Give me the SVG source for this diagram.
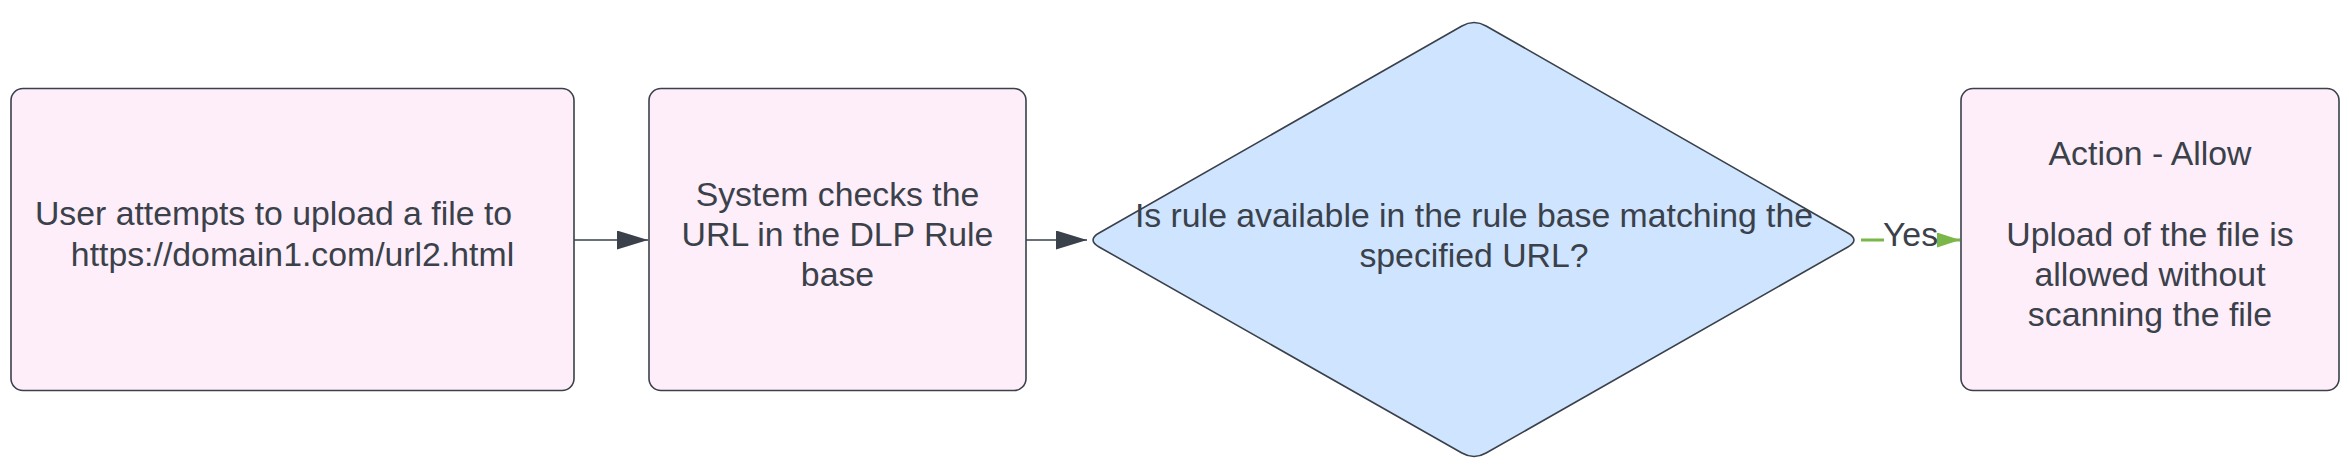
<svg xmlns="http://www.w3.org/2000/svg" width="2349" height="473" viewBox="0 0 2349 473">
  <defs>
    <style>
      .box { fill: #feeef9; stroke: #3a414a; stroke-width: 1.6; }
      .dia { fill: #cfe4ff; stroke: #3a414a; stroke-width: 1.6; }
      .t { font-family: "Liberation Sans", Arial, sans-serif; font-size: 33.8px; fill: #3a414a; text-anchor: middle; }
      .edge { fill: none; stroke: #3a414a; stroke-width: 1.6; }
      .yes { fill: none; stroke: #7ab648; stroke-width: 3; }
    </style>
    <marker id="ah" viewBox="0 0 31 19" refX="31" refY="9.5" markerWidth="31" markerHeight="19" markerUnits="userSpaceOnUse" orient="auto">
      <path d="M0,0 L31,9.5 L0,19 Z" fill="#3a414a"/>
    </marker>
    <marker id="ahg" viewBox="0 0 23 15" refX="23" refY="7.5" markerWidth="23" markerHeight="15" markerUnits="userSpaceOnUse" orient="auto">
      <path d="M0,0 L23,7.5 L0,15 Z" fill="#7ab648"/>
    </marker>
  </defs>
  <rect width="2349" height="473" fill="#ffffff"/>

  <g id="connectors">
    <line class="edge" x1="574" y1="240" x2="648" y2="240" marker-end="url(#ah)"/>
    <line class="edge" x1="1026" y1="240" x2="1087" y2="240" marker-end="url(#ah)"/>
    <g id="edge-yes">
      <line class="yes" x1="1861" y1="240" x2="1960" y2="240" marker-end="url(#ahg)"/>
      <rect x="1884" y="222" width="53" height="34" fill="#ffffff"/>
      <text class="t" x="1910.5" y="245.5">Yes</text>
    </g>
  </g>

  <g id="node-user">
    <rect class="box" x="11" y="88.5" width="563" height="302" rx="12" ry="12"/>
    <text class="t" x="273.5" y="225">User attempts to upload a file to</text>
    <text class="t" x="292.5" y="266">https://domain1.com/url2.html</text>
  </g>

  <g id="node-system">
    <rect class="box" x="649" y="88.5" width="377" height="302" rx="12" ry="12"/>
    <text class="t" x="837.5" y="206">System checks the</text>
    <text class="t" x="837.5" y="246">URL in the DLP Rule</text>
    <text class="t" x="837.5" y="286">base</text>
  </g>

  <g id="node-decision">
    <path class="dia" d="M1486.1,25.95 L1847.9,233.05 Q1860,240 1847.9,246.95 L1486.1,453.05 Q1474,460 1461.9,453.05 L1099.1,246.95 Q1087,240 1099.1,233.05 L1461.9,25.95 Q1474,19 1486.1,25.95 Z"/>
    <text class="t" x="1474" y="227">Is rule available in the rule base matching the</text>
    <text class="t" x="1474" y="267">specified URL?</text>
  </g>

  <g id="node-allow">
    <rect class="box" x="1961" y="88.5" width="378" height="302" rx="12" ry="12"/>
    <text class="t" x="2150" y="165">Action - Allow</text>
    <text class="t" x="2150" y="246">Upload of the file is</text>
    <text class="t" x="2150" y="286">allowed without</text>
    <text class="t" x="2150" y="326">scanning the file</text>
  </g>
</svg>
